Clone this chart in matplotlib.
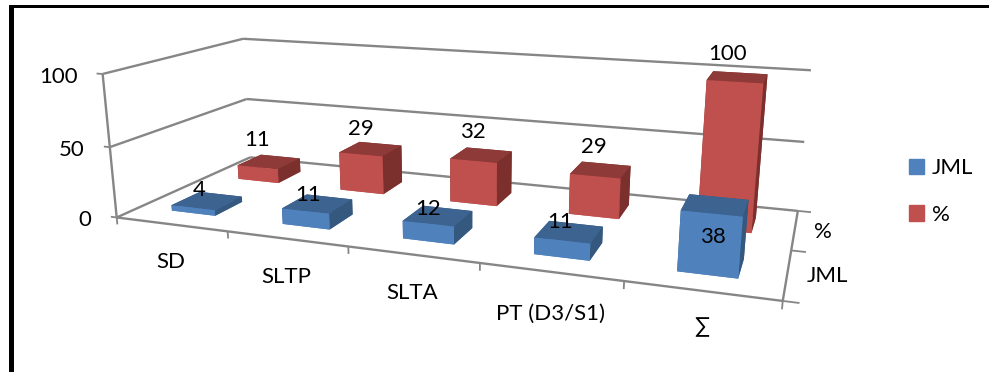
import matplotlib
matplotlib.use("Agg")
import matplotlib.pyplot as plt
import numpy as np
from matplotlib.patches import Rectangle
from mpl_toolkits.mplot3d import proj3d

categories = ["SD", "SLTP", "SLTA", "PT (D3/S1)", "∑"]
series_names = ["JML", "%"]
jml_values = [4, 11, 12, 11, 38]
pct_values = [11, 29, 32, 29, 100]
value_ticks = [0, 50, 100]

W, H = 989, 372
plt.rcParams["font.family"] = ["Lato", "DejaVu Sans"]
FONT = 16
GRID = "#868686"
BLUE = {"front": "#4f81bd", "top": "#3d6391", "side": "#35587f"}
RED = {"front": "#c0504d", "top": "#8e3a38", "side": "#7c302e"}
BAR = 0.4

# camera calibration: world (category, series, value) -> pixel, from the box corners
calib = [
    (0, 0, 0, 117, 217), (5, 0, 0, 783, 300), (0, 2, 0, 250, 157), (5, 2, 0, 798, 211),
    (0, 0, 100, 103, 74), (0, 2, 100, 243, 39), (5, 2, 100, 811, 70),
    (0, 0, 50, 109, 147), (0, 2, 50, 247, 99), (5, 2, 50, 804, 142),
    (1, 0, 0, 228, 232), (2, 0, 0, 348, 247), (3, 0, 0, 480, 263), (4, 0, 0, 624, 281),
    (5, 1, 0, 791, 251),
]


def fit_camera(points):
    rows = []
    for X, Y, Z, u, v in points:
        w = [X, Y, Z / 100, 1]
        rows.append(w + [0, 0, 0, 0] + [-u * c for c in w])
        rows.append([0, 0, 0, 0] + w + [-v * c for c in w])
    P = np.linalg.svd(np.array(rows, dtype=float))[2][-1].reshape(3, 4)
    P[:, 2] /= 100
    if P[2] @ [2.5, 1, 50, 1] < 0:
        P = -P
    return P / (P[2] @ [2.5, 1, 50, 1])


fig = plt.figure(figsize=(W / 100, H / 100), dpi=100, facecolor="white")
# 3d axes are forced square, so make it square and let it overhang the figure
off = (W - H) / 2
ax = fig.add_axes([0, -off / H, 1, W / H], projection="3d")
ax.set_axis_off()
ax.computed_zorder = False
ax.set_xlim(0, 5)
ax.set_ylim(0, 2)
ax.set_zlim(0, 100)
ax.set_proj_type("ortho")

P = fit_camera(calib)
vl = ax.viewLim
sx = (vl.x1 - vl.x0) / W
sy = (vl.y1 - vl.y0) / W
to_view = np.array([[sx, 0, vl.x0], [0, -sy, vl.y0 + (H + off) * sy], [0, 0, 1]])
uv = to_view @ P
# depth row: stays negative and grows with distance from the camera
M = np.vstack([uv[0], uv[1], 0.1 * P[2] - [0, 0, 0, 0.9], P[2]])
ax.get_proj = lambda: M


def seg(a, b, lw=1.7):
    ax.plot(*zip(a, b), color=GRID, lw=lw, zorder=1, solid_capstyle="butt")


def place(text, xyz, dx, dy, ha="center"):
    u, v, _ = proj3d.proj_transform(*xyz, M)
    ax.annotate(text, xy=(u, v), xytext=(dx, dy), textcoords="offset pixels",
                ha=ha, va="center", fontsize=FONT, color="black", annotation_clip=False)


# box: floor, left upright, gridlines on side and back walls
seg((0, 0, 0), (5, 0, 0))
seg((5, 0, 0), (5, 2, 0))
seg((0, 0, 0), (0, 0, 100))
for z in value_ticks:
    seg((0, 0, z), (0, 2, z))
    seg((0, 2, z), (5, 2, z))
    seg((0, 0, z), (-0.055, 0, z), 1.3)
    place(str(z), (0, 0, z), -25, -3, ha="right")

cat_drop = [-38, -38, -38, -42, -36]
for i, name in enumerate(categories):
    seg((i, 0, 0), (i, 0, -5), 1.3)
    place(name, (i + 0.5, 0, 0), 0, cat_drop[i])
seg((5, 0, 0), (5, 0, -5), 1.3)

for j, name in enumerate(series_names):
    seg((5, j, 0), (5.1, j, 0), 1.3)
    place(name, (5, j + 0.5, 0), 19, -2, ha="left")
seg((5, 2, 0), (5.1, 2, 0), 1.3)


def bars(values, row, shades):
    # face order of bar3d: bottom, top, front, back, left, right
    faces = [shades["front"], shades["top"], shades["front"],
             shades["side"], shades["side"], shades["side"]]
    for i, val in enumerate(values):
        ax.bar3d(i + 0.5 - BAR / 2, row + 0.5 - BAR / 2, 0, BAR, BAR, val,
                 color=faces, shade=False, edgecolor="none", linewidth=0, zorder=2)


bars(pct_values, 1, RED)
bars(jml_values, 0, BLUE)

# data labels, nudged from the centre of each bar top
jml_nudge = [(-8, 11), (-9, 9), (-10, 7), (-9, 10), (-2, -32)]
pct_nudge = [(-12, 22), (-10, 20), (-8, 23), (-7, 23), (-10, 23)]
for i, (val, nudge) in enumerate(zip(jml_values, jml_nudge)):
    place(str(val), (i + 0.5, 0.5, val), *nudge)
for i, (val, nudge) in enumerate(zip(pct_values, pct_nudge)):
    place(str(val), (i + 0.5, 1.5, val), *nudge)

handles = [Rectangle((0, 0), 1, 1, color=BLUE["front"]), Rectangle((0, 0), 1, 1, color=RED["front"])]
fig.legend(handles, series_names, loc="center left", bbox_to_anchor=(909 / W, 1 - 191.5 / H),
           frameon=False, fontsize=FONT, handlelength=0.68, handleheight=0.68,
           labelspacing=1.2, handletextpad=0.35, borderpad=0, borderaxespad=0)

# heavy black rule along the top and left of the frame
fig.add_artist(Rectangle((9 / W, 0), 5 / W, 1 - 5 / H, color="black", lw=0))
fig.add_artist(Rectangle((9 / W, 1 - 8 / H), 1, 3 / H, color="black", lw=0))

fig.savefig("out.png", dpi=100)
